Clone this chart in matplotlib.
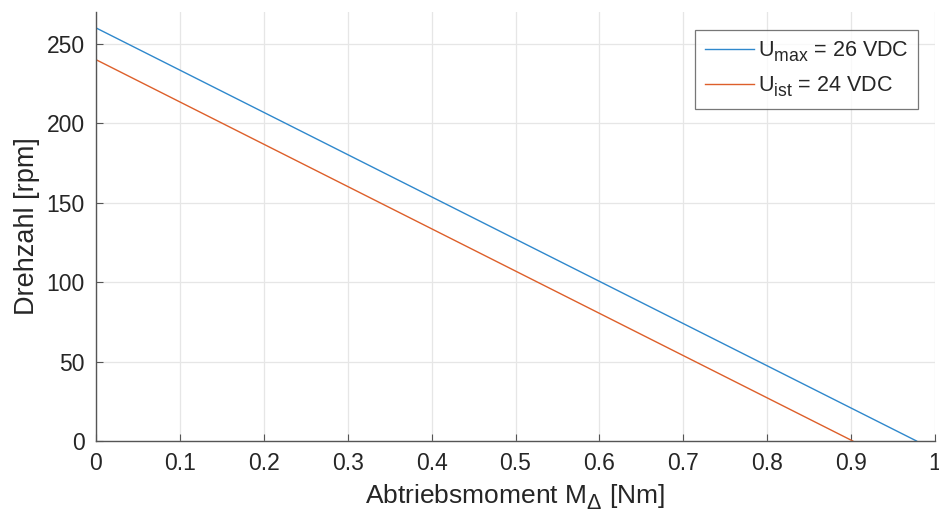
import numpy as np
import matplotlib
matplotlib.use("Agg")
import matplotlib.pyplot as plt

# Kennlinien (Drehzahl ueber Abtriebsmoment)
torque_max = [0.0, 0.978]
speed_max = [260, 0]
torque_ist = [0.0, 0.902]
speed_ist = [240, 0]
labels = [r"U$_{\mathregular{max}}$ = 26 VDC", r"U$_{\mathregular{ist}}$ = 24 VDC"]
xticks = [0, 0.1, 0.2, 0.3, 0.4, 0.5, 0.6, 0.7, 0.8, 0.9, 1]
xticklabels = ["0", "0.1", "0.2", "0.3", "0.4", "0.5", "0.6", "0.7", "0.8", "0.9", "1"]
yticks = [0, 50, 100, 150, 200, 250]

plt.rcParams["font.family"] = ["Liberation Sans", "DejaVu Sans"]
plt.rcParams["mathtext.fontset"] = "custom"
plt.rcParams["mathtext.rm"] = "Liberation Sans"

# MATLAB-artige, groessere und tiefere Indizes
try:
    import matplotlib._mathtext as mt
    mt.SHRINK_FACTOR = 0.82
    mt.FontConstantsBase.sub1 = 0.45
    mt.FontConstantsBase.sub2 = 0.6
except Exception:
    pass

fig = plt.figure(figsize=(9.39, 5.21), dpi=100)
ax = fig.add_axes([96 / 939, 80 / 521, 839 / 939, 429 / 521])

ax.plot(torque_max, speed_max, color="#2f88cc", lw=1.0, label=labels[0])
ax.plot(torque_ist, speed_ist, color="#dd5f2a", lw=1.0, label=labels[1])

ax.set_xlim(0, 1)
ax.set_ylim(0, 270)
ax.set_xticks(xticks)
ax.set_xticklabels(xticklabels)
ax.set_yticks(yticks)
ax.grid(True, color="#e6e6e6", lw=0.9)
ax.set_axisbelow(True)
for s in ["top", "right"]:
    ax.spines[s].set_visible(False)
for s in ["left", "bottom"]:
    ax.spines[s].set_color("#555555")
    ax.spines[s].set_linewidth(1.0)
ax.tick_params(direction="in", length=5, width=0.8, color="#555555",
               labelsize=16.5, labelcolor="#262626", pad=8)

ax.set_xlabel(r"Abtriebsmoment M$_{\Delta}$ [Nm]", fontsize=19, color="#262626", labelpad=5)
ax.set_ylabel("Drehzahl [rpm]", fontsize=19.5, color="#262626", labelpad=5)

leg = ax.legend(loc="upper right", bbox_to_anchor=(918 / 939, 491 / 521),
                bbox_transform=fig.transFigure, fontsize=15.5, frameon=True,
                fancybox=False, edgecolor="#555555", handlelength=2.3,
                borderaxespad=0, labelspacing=0.5, handletextpad=0.15,
                borderpad=0.45)
leg.get_frame().set_linewidth(0.9)
for t in leg.get_texts():
    t.set_color("#262626")

fig.savefig("out.png", dpi=100)
